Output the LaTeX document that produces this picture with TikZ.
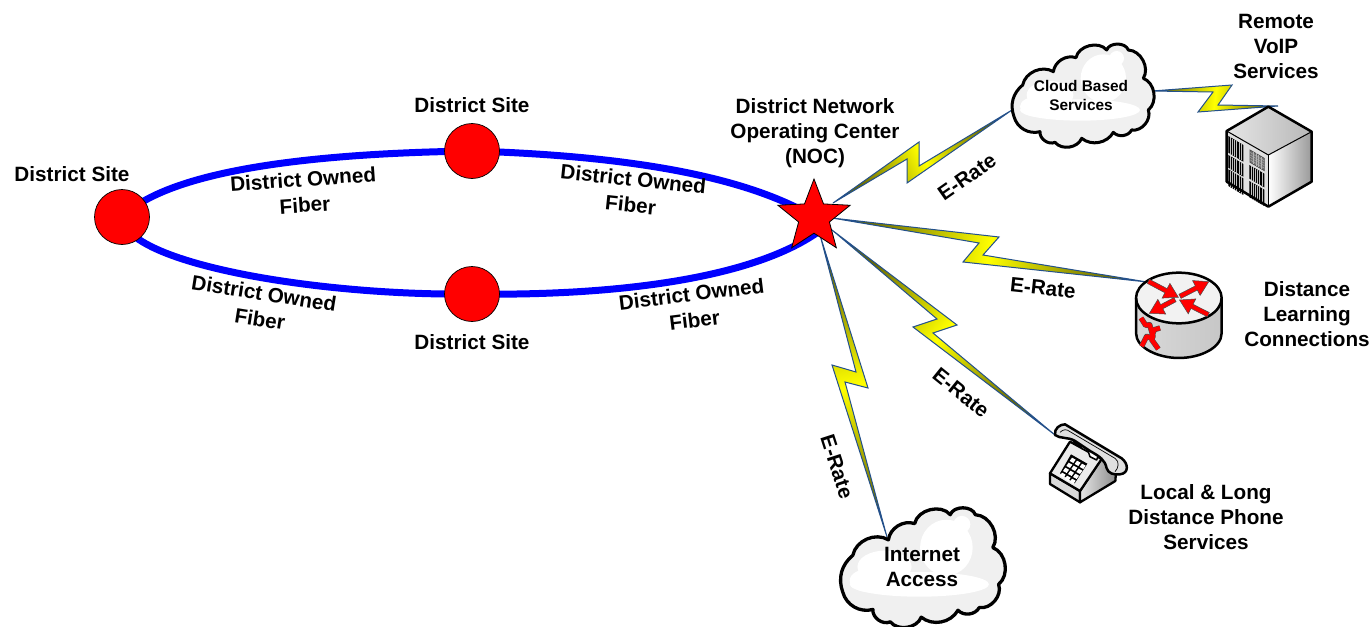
\documentclass[tikz,border=0pt]{standalone}
\usepackage{fontspec}
\setmainfont{Liberation Sans}
\usetikzlibrary{shapes.geometric,calc}
\definecolor{boltdark}{RGB}{105,105,0}
\definecolor{boltedge}{RGB}{35,80,140}
\definecolor{cloudgray}{RGB}{240,240,240}
\pgfdeclarehorizontalshading{boltshade}{100bp}{color(0bp)=(boltdark); color(27bp)=(boltdark); color(50bp)=(yellow); color(73bp)=(boltdark); color(100bp)=(boltdark)}
\tikzset{
  lbl/.style={font=\fontsize{20.7}{25}\selectfont\bfseries, align=center, inner sep=0pt, text=black},
  rotlbl/.style={font=\fontsize{20.7}{26}\selectfont\bfseries, align=center, inner sep=0pt, text=black},
  smalllbl/.style={font=\fontsize{15.4}{19}\selectfont\bfseries, align=center, inner sep=0pt, text=black},
  ring/.style={draw=blue, line width=7pt},
  sitenode/.style={circle, fill=red, draw=black, line width=0.7pt, minimum size=55pt, inner sep=0pt},
  boltstyle/.style={draw=boltedge, line width=1pt, line join=miter, shading=boltshade},
  cloudline/.style={draw=black, line width=3pt, line join=round},
  iconline/.style={draw=black, line width=2.5pt, line join=round}
}
\newcommand{\cloudbody}{%
  \path[cloudline, fill=cloudgray] (42,245) to[bend left=35] (68,150) to[bend left=55] (160,110)
    to[bend left=50] (228,68) to[bend left=65] (320,45) to[bend left=70] (385,45)
    to[bend left=60] (430,130) to[bend left=60] (445,225) to[bend left=60] (395,285)
    to[bend left=55] (340,292) to[bend left=50] (245,310) to[bend left=60] (165,322)
    to[bend left=60] (120,290) to[bend left=45] cycle;
  \fill[white] (240,225) ellipse (180 and 32);
  \fill[white] (110,215) ellipse (50 and 30);
  \fill[white] (310,130) ellipse (68 and 72);
  \fill[white] (150,180) ellipse (70 and 42);
  \fill[white] (350,70) ellipse (22 and 22);
}
\newcommand{\ventpanel}[8]{%
  \fill[black] (#1,#2) -- (#3,#4) -- (#5,#6) -- (#7,#8) -- cycle;
  \foreach \t in {0.14,0.28,0.42,0.56,0.70,0.84}{
    \draw[white!75!black, line width=0.7pt] ($(#1,#2)!\t!(#3,#4)$) -- ($(#7,#8)!\t!(#5,#6)$);
  }
}
\newcommand{\redarrow}[4]{%
  \begin{scope}[shift={(#1,#2)}, rotate=#3]
    \fill[red, draw=black!70, line width=0.5pt] (0,-7) -- (#4-42,-7) -- (#4-42,-25) -- (#4,0) -- (#4-42,25) -- (#4-42,7) -- (0,7) -- cycle;
  \end{scope}
}
\begin{document}
\begin{tikzpicture}[x=1pt,y=-1pt]
\clip (0,0) rectangle (1372,626);
\fill[white] (0,0) rectangle (1372,626);

% anchors
\coordinate (siteL) at (122,217);
\coordinate (siteT) at (472,151);
\coordinate (siteB) at (472,294);
\coordinate (nocC) at (814,217);
\coordinate (nocLow) at (818,232);
\coordinate (nA) at (833,203);
\coordinate (nB) at (832,218);
\coordinate (nC) at (832,230);
\coordinate (nD) at (820,235);
\coordinate (cloudIn) at (1012,110);
\coordinate (cloudOut) at (1152,91);
\coordinate (serverIn) at (1278,106);
\coordinate (routerIn) at (1147,282);
\coordinate (phoneIn) at (1055,435);
\coordinate (inetIn) at (887,537);

% ring
\draw[ring] (siteL) .. controls (175,165) and (340,153) .. (siteT);
\draw[ring] (siteT) .. controls (600,155) and (735,170) .. (nocC);
\draw[ring] (siteL) .. controls (125,264) and (320,296) .. (siteB);
\draw[ring] (siteB) .. controls (610,296) and (750,280) .. (nocLow);

% bolts
\path[boltstyle, shading angle=27] (nA) -- (919,142) -- (919,166) -- (cloudIn) -- (907,183) -- (907,159) -- cycle;
\path[boltstyle, shading angle=-11.5] (nB) -- (999,237) -- (983,255) -- (routerIn) -- (963,262) -- (979,243) -- cycle;
\path[boltstyle, shading angle=-42.6] (nC) -- (957,325) -- (933,333) -- (phoneIn) -- (913,327) -- (937,319) -- cycle;
\path[boltstyle, shading angle=-77.5] (nD) -- (868,388) -- (845,382) -- (inetIn) -- (832,365) -- (856,372) -- cycle;
\path[boltstyle, shading angle=-7] (cloudOut) -- (1232,85) -- (1218,105) -- (serverIn) -- (1198,112) -- (1213,92) -- cycle;

% sites and star
\node[sitenode] (nodeL) at (siteL) {};
\node[sitenode] (nodeT) at (siteT) {};
\node[sitenode] (nodeB) at (siteB) {};
\node[star, star points=5, star point ratio=2.35, minimum size=76pt, inner sep=0pt, fill=red, draw=black, line width=0.8pt] (noc) at (nocC) {};

% clouds
\begin{scope}[shift={(1000,35)}, scale=0.3333]
  \cloudbody
\end{scope}
\begin{scope}[shift={(826.5,497.3)}, scale=0.3867, cloudline/.append style={line width=3.3pt}]
  \cloudbody
\end{scope}
\node[smalllbl] (cloudA) at (1081,95) {Cloud Based\\Services};
\node[lbl] (cloudB) at (922,567) {Internet\\Access};

% server
\begin{scope}[shift={(1215,100)}, scale=0.3333]
  \shade[left color=white!90!black, right color=white!72!black] (160,20) -- (290,95) -- (160,165) -- (35,93) -- cycle;
  \shade[left color=white, right color=white!60!black] (160,165) -- (290,95) -- (290,245) -- (160,320) -- cycle;
  \fill[white!88!black] (35,93) -- (160,165) -- (160,320) -- (35,245) -- cycle;
  \ventpanel{40}{108}{85}{135}{85}{185}{40}{158}
  \ventpanel{40}{165}{85}{192}{85}{230}{40}{203}
  \ventpanel{40}{208}{85}{235}{85}{285}{40}{258}
  \ventpanel{103}{195}{148}{221}{148}{262}{103}{236}
  \ventpanel{103}{243}{148}{269}{148}{318}{103}{292}
  \fill[black!55] (105,150) -- (148,175) -- (148,212) -- (105,187) -- cycle;
  \draw[black!70, line width=0.7pt] (105,150) -- (148,175) -- (148,212) -- (105,187) -- cycle;
  \foreach \t in {0.2,0.4,0.6,0.8}{
    \draw[white!70!black, line width=0.35pt] ($(105,150)!\t!(148,175)$) -- ($(105,187)!\t!(148,212)$);
    \draw[white!70!black, line width=0.35pt] ($(105,150)!\t!(105,187)$) -- ($(148,175)!\t!(148,212)$);
  }
  \draw[iconline] (160,20) -- (290,95) -- (290,245) -- (160,320) -- (35,245) -- (35,93) -- cycle;
  \draw[iconline, line width=1pt] (35,93) -- (160,165) -- (290,95);
  \draw[iconline, line width=1pt] (160,165) -- (160,320);
\end{scope}

% router
\begin{scope}[shift={(1125,268)}, scale=0.3333]
  \shade[left color=white!85!black, middle color=white, right color=white!78!black] (33,90) -- (33,195) .. controls (33,240) and (100,270) .. (161.5,270) .. controls (225,270) and (290,240) .. (290,195) -- (290,90) -- cycle;
  \fill[white!95!black] (161.5,90) ellipse (128.5 and 76);
  \draw[iconline] (33,90) -- (33,195) .. controls (33,240) and (100,270) .. (161.5,270) .. controls (225,270) and (290,240) .. (290,195) -- (290,90);
  \draw[iconline] (161.5,90) ellipse (128.5 and 76);
  \redarrow{70}{40}{-28}{102}
  \redarrow{165}{85}{27}{97}
  \redarrow{150}{95}{208}{87}
  \redarrow{250}{140}{153}{97}
  \draw[black!70, line width=5.4pt, line join=round] (48,150) -- (62,172) -- (74,170) -- (84,205) -- (80,215) -- (100,243);
  \draw[black!70, line width=5.4pt, line join=round] (105,180) -- (88,185) -- (78,210) -- (65,205) -- (50,235);
  \draw[red, line width=4.4pt, line join=round] (48,150) -- (62,172) -- (74,170) -- (84,205) -- (80,215) -- (100,243);
  \draw[red, line width=4.4pt, line join=round] (105,180) -- (88,185) -- (78,210) -- (65,205) -- (50,235);
\end{scope}

% phone
\begin{scope}[shift={(1040,415)}, scale=0.3333, phoneline/.style={draw=black, line width=2.3pt, line join=round}]
  \path[fill=white!85!black, phoneline] (30,175) -- (120,228) -- (120,262) -- (30,207) -- cycle;
  \shade[left color=white!90!black, right color=white!55!black, phoneline] (120,228) -- (185,130) -- (228,172) -- (226,198) -- (120,262) -- cycle;
  \path[fill=white!92!black, phoneline] (90,80) -- (185,132) -- (120,228) -- (30,175) -- cycle;
  \fill[black] (93,118) -- (142,146) -- (104,205) -- (60,175) -- cycle;
  \foreach \i in {0,1,2}{\foreach \j in {0,1,2,3}{
    \fill[white] ($(96,128)+\i*(15,9)+\j*(-10,15)$) -- ++(11,6) -- ++(-7,10) -- ++(-11,-6) -- cycle;
  }}
  \path[fill=white, draw=black, line width=1.5pt, line join=round] (100,78) -- (108,90) -- (115,85) -- (125,100) -- (145,110) -- (150,125) -- (170,135) -- (175,120) -- cycle;
  \path[fill=white!88!black, draw=black, line width=2.5pt, line join=round] (45,60) .. controls (42,40) and (60,28) .. (75,28) -- (245,130) .. controls (265,145) and (268,175) .. (240,178) .. controls (220,180) and (205,175) .. (200,160) .. controls (195,135) and (180,125) .. (150,108) -- (105,78) .. controls (85,65) and (60,72) .. (45,60) -- cycle;
  \draw[black, line width=0.7pt] (60,52) .. controls (70,42) and (80,42) .. (90,50) -- (225,130) .. controls (240,140) and (235,160) .. (225,170);
\end{scope}

% labels
\node[lbl] (l1) at (72,174) {District Site};
\node[lbl] (l2) at (472,105) {District Site};
\node[lbl] (l3) at (472,342) {District Site};
\node[lbl] (t1) at (815,133) {District Network\\Operating Center\\(NOC)};
\node[lbl] (t2) at (1276,46) {Remote\\VoIP\\Services};
\node[lbl] (t3) at (1307,314) {Distance\\Learning\\Connections};
\node[lbl] (t4) at (1206,517) {Local \& Long\\Distance Phone\\Services};
\node[rotlbl, rotate=4] (f1) at (304,192) {District Owned\\Fiber};
\node[rotlbl, rotate=-6] (f2) at (632,192) {District Owned\\Fiber};
\node[rotlbl, rotate=-9] (f3) at (262,306) {District Owned\\Fiber};
\node[rotlbl, rotate=7] (f4) at (693,307) {District Owned\\Fiber};
\node[lbl, rotate=35] (e1) at (967,177) {E-Rate};
\node[lbl, rotate=-6] (e2) at (1043,288) {E-Rate};
\node[lbl, rotate=-39] (e3) at (961,393) {E-Rate};
\node[lbl, rotate=-72] (e4) at (837,467) {E-Rate};
\end{tikzpicture}
\end{document}
